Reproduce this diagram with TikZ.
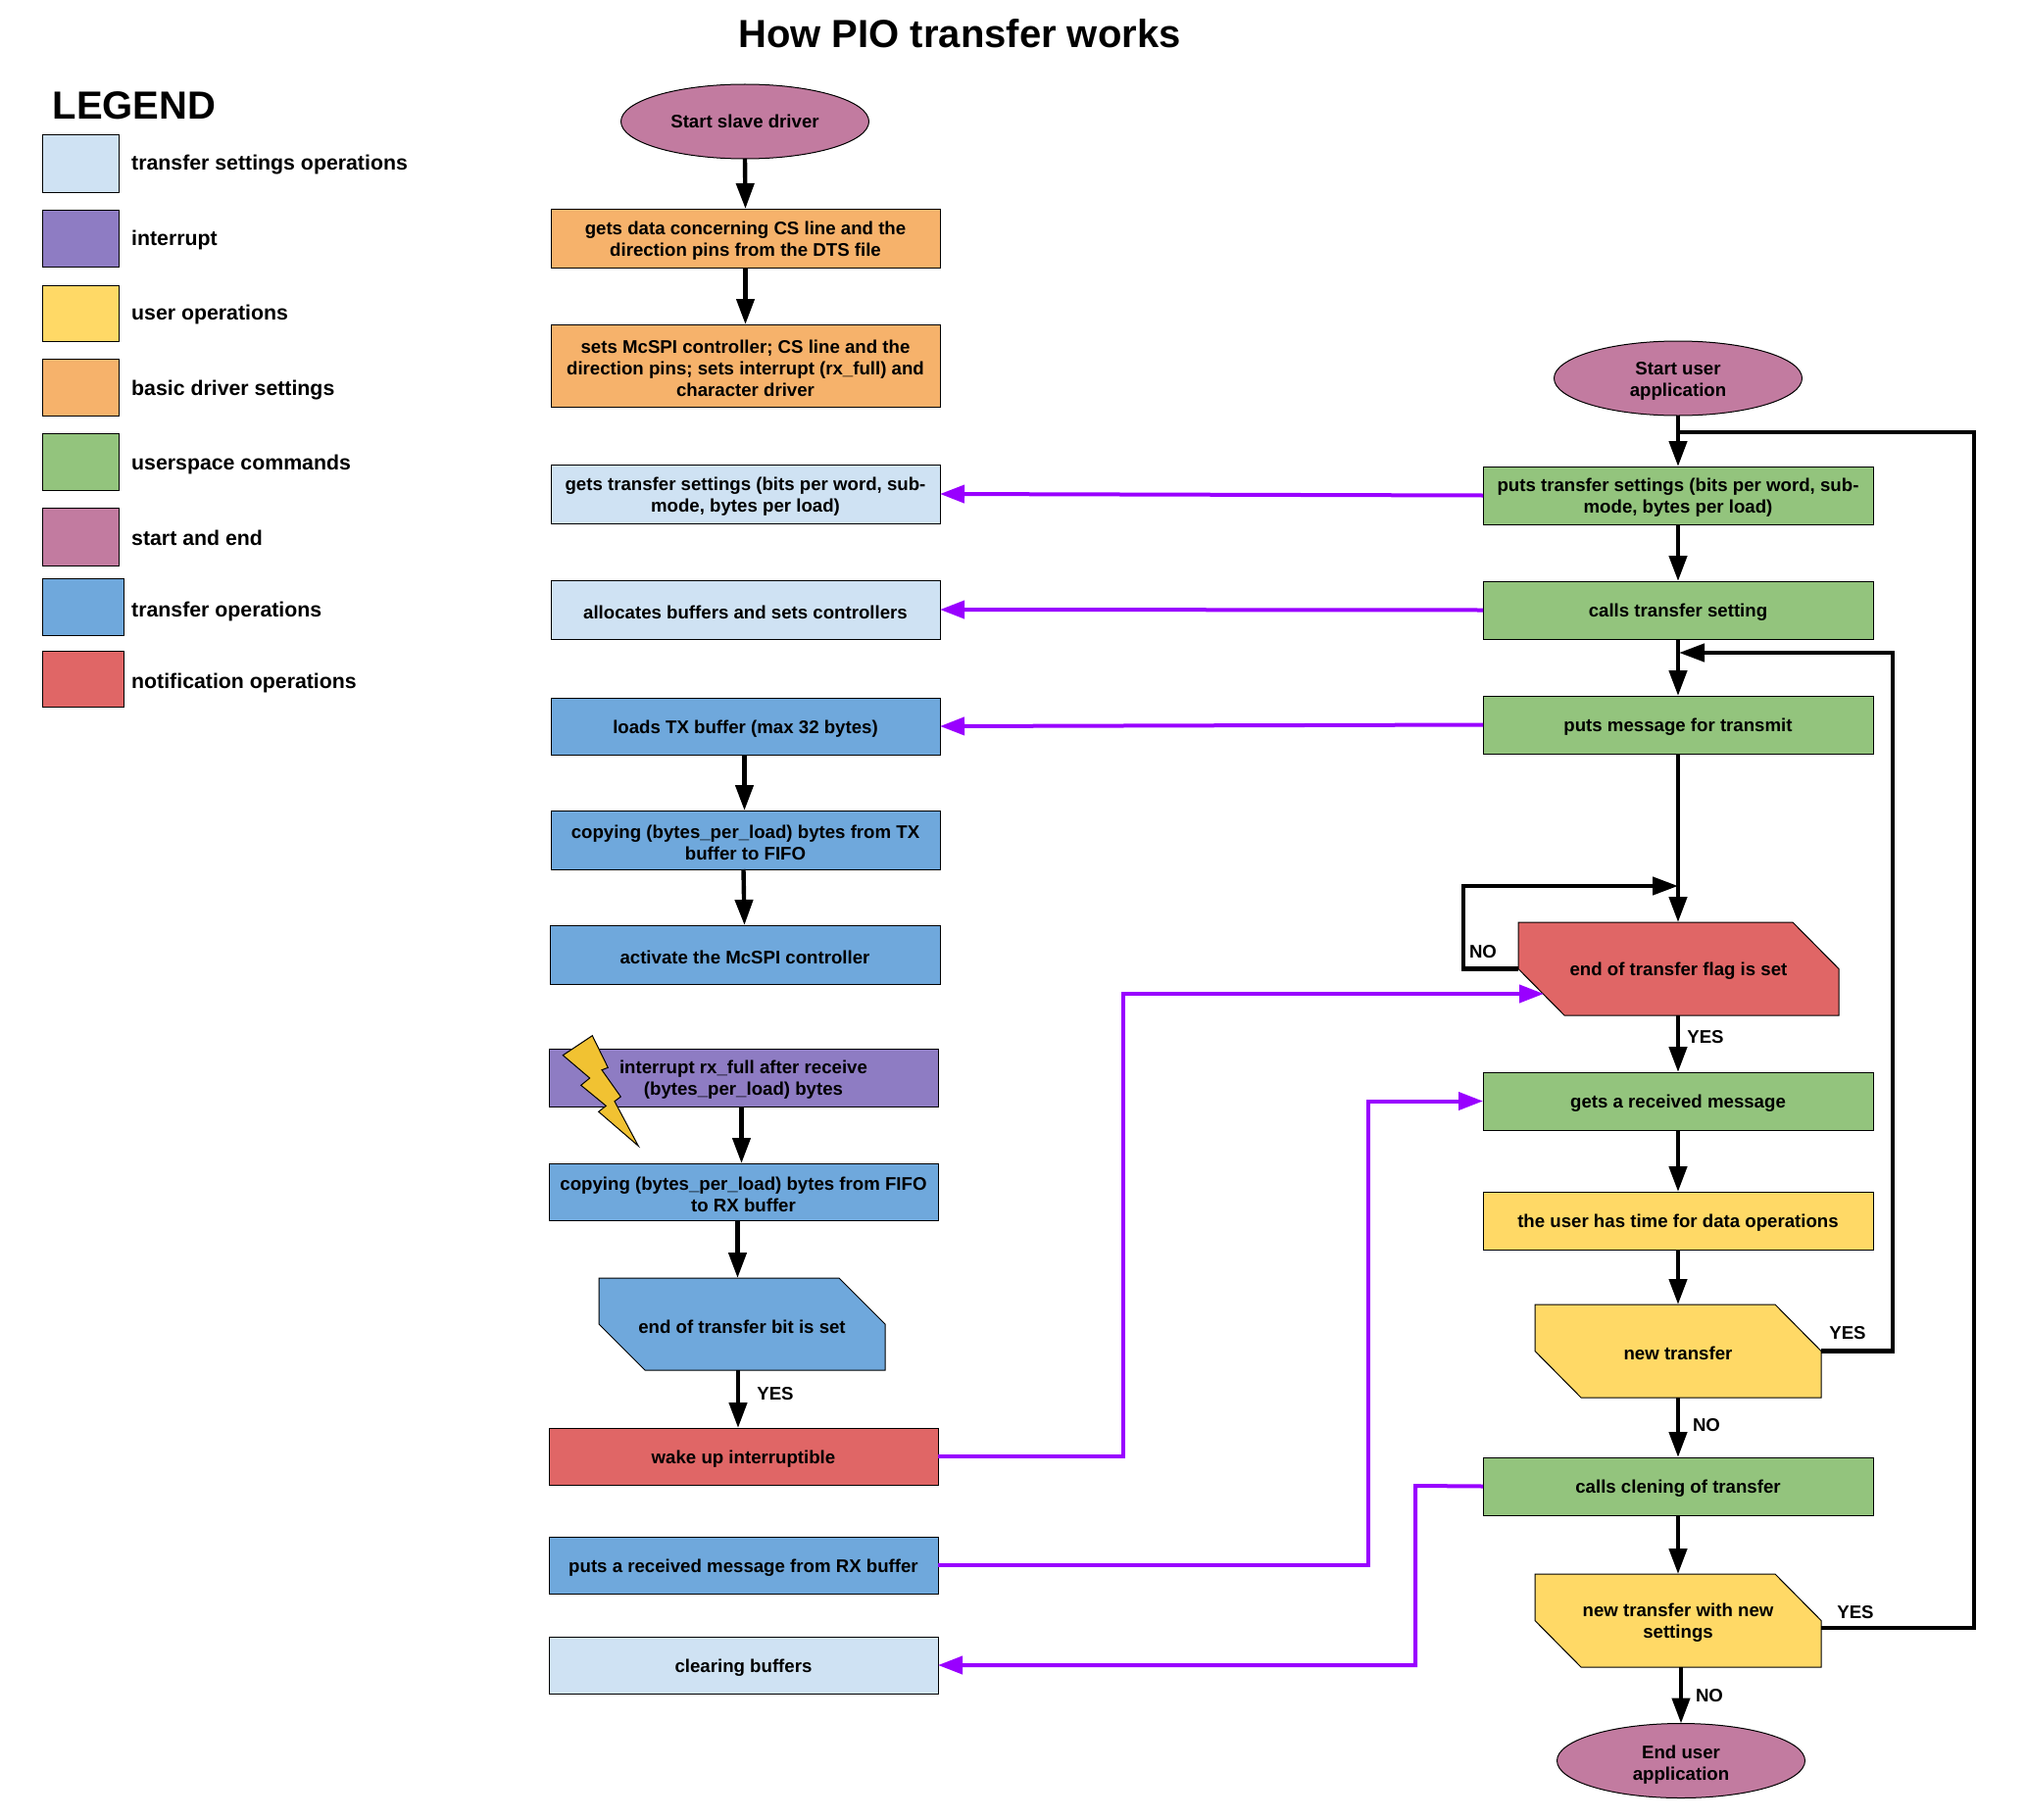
\documentclass[tikz,border=0pt]{standalone}
\usepackage{fontspec}
\setmainfont{Liberation Sans}
\usetikzlibrary{arrows.meta,shapes.geometric,calc}
\definecolor{cstart}{HTML}{C27BA0}
\definecolor{csett}{HTML}{CFE2F3}
\definecolor{cint}{HTML}{8E7CC3}
\definecolor{cuser}{HTML}{FFD966}
\definecolor{cbasic}{HTML}{F6B26B}
\definecolor{ccmd}{HTML}{93C47D}
\definecolor{cxfer}{HTML}{6FA8DC}
\definecolor{cnote}{HTML}{E06666}
\definecolor{cpurple}{HTML}{9900FF}
\definecolor{cbolt}{HTML}{F1C232}
\tikzset{
  x=1pt,y=1pt,
  boxtext/.style={font=\fontsize{18.65}{22}\selectfont\bfseries,align=center,text=black,inner sep=0pt,outer sep=0pt},
  procbox/.style={draw=black,line width=1pt,inner sep=0pt,outer sep=0pt},
  term/.style={draw=black,line width=1pt,ellipse,fill=cstart,inner sep=0pt,outer sep=0pt},
  legbox/.style={draw=black,line width=1pt,inner sep=0pt,outer sep=0pt},
  leglabel/.style={font=\fontsize{21.3}{25}\selectfont\bfseries,anchor=west,inner sep=0pt},
  flow/.style={line width=4.4pt,draw=black,-{Triangle[length=26pt,width=18pt]},line join=miter},
  flowplain/.style={line width=4.4pt,draw=black,line join=miter},
  msg/.style={line width=4pt,draw=cpurple,-{Triangle[length=25pt,width=18pt]},line join=miter},
  edgelabel/.style={font=\fontsize{18.65}{22}\selectfont\bfseries,inner sep=0pt}
}
% name, x1, y1, x2, y2, colour, text
\newcommand{\flowbox}[7]{\node[procbox,fill=#6,minimum width={#4-#2},minimum height={#5-#3}] (#1) at ({(#2+#4)/2},{-(#3+#5)/2-1}) {};
  \node[boxtext] (#1t) at ([yshift=-2.5pt]#1.center) {#7};}
% name, x1, y1, x2, y2, colour, text : box with two cut corners
\newcommand{\cutbox}[7]{\draw[line width=1pt,fill=#6] (#2,{-#3-1}) -- ({#4-47},{-#3-1}) -- (#4,{-(#3+#5)/2-1}) -- (#4,{-#5-1}) -- ({#2+47},{-#5-1}) -- (#2,{-(#3+#5)/2-1}) -- cycle;
  \coordinate (#1) at ({(#2+#4)/2},{-(#3+#5)/2-1});
  \coordinate (#1n) at ({(#2+#4)/2},{-#3-1});
  \coordinate (#1s) at ({(#2+#4)/2},{-#5-1});
  \coordinate (#1w) at (#2,{-(#3+#5)/2-1});
  \coordinate (#1e) at (#4,{-(#3+#5)/2-1});
  \node[boxtext] (#1t) at ([yshift=-2.5pt]#1) {#7};}
% name, x1, y1, x2, y2, colour, label, label y
\newcommand{\legitem}[8]{\node[legbox,fill=#6,minimum width={#4-#2},minimum height={#5-#3}] (#1) at ({(#2+#4)/2},{-(#3+#5)/2}) {};
  \node[leglabel] (#1t) at (134,-#8) {#7};}
\begin{document}
\begin{tikzpicture}
\useasboundingbox (0,0) rectangle (2067,-1857);
\node[font=\fontsize{40}{46}\selectfont\bfseries,inner sep=0pt] (title) at (979,-34) {How PIO transfer works};
\node[font=\fontsize{40}{46}\selectfont\bfseries,inner sep=0pt] (legend) at (137,-108) {LEGEND};
\legitem{la}{43}{138}{121}{196}{csett}{transfer settings operations}{168}
\legitem{lb}{43}{214}{121}{272}{cint}{interrupt}{245}
\legitem{lc}{43}{291}{121}{348}{cuser}{user operations}{321}
\legitem{ld}{43}{366}{121}{424}{cbasic}{basic driver settings}{398}
\legitem{le}{43}{442}{121}{500}{ccmd}{userspace commands}{474}
\legitem{lf}{43}{518}{121}{577}{cstart}{start and end}{549}
\legitem{lg}{43}{590}{126}{648}{cxfer}{transfer operations}{624}
\legitem{lh}{43}{664}{126}{721}{cnote}{notification operations}{697}

% left column
\node[term,minimum width=253pt,minimum height=76pt] (s1) at (760,-124) {};
\node[boxtext] (s1t) at (s1.center) {Start slave driver};
\flowbox{l1}{562}{212}{959}{272}{cbasic}{gets data concerning CS line and the\\direction pins from the DTS file}
\flowbox{l2}{562}{330}{959}{414}{cbasic}{sets McSPI controller; CS line and the\\direction pins; sets interrupt (rx\_full) and\\character driver}
\flowbox{l3}{562}{473}{959}{533}{csett}{gets transfer settings (bits per word, sub-\\mode, bytes per load)}
\flowbox{l4}{562}{591}{959}{651}{csett}{allocates buffers and sets controllers}
\flowbox{l5}{562}{711}{959}{769}{cxfer}{loads TX buffer (max 32 bytes)}
\flowbox{l6}{562}{826}{959}{886}{cxfer}{copying (bytes\_per\_load) bytes from TX\\buffer to FIFO}
\flowbox{l7}{561}{943}{959}{1003}{cxfer}{activate the McSPI controller}
\flowbox{l8}{560}{1069}{957}{1128}{cint}{interrupt rx\_full after receive\\(bytes\_per\_load) bytes}
\flowbox{l9}{560}{1186}{957}{1244}{cxfer}{copying (bytes\_per\_load) bytes from FIFO\\to RX buffer}
\cutbox{l10}{611}{1303}{903}{1397}{cxfer}{end of transfer bit is set}
\flowbox{l11}{560}{1456}{957}{1514}{cnote}{wake up interruptible}
\flowbox{l12}{560}{1567}{957}{1625}{cxfer}{puts a received message from RX buffer}
\flowbox{l13}{560}{1669}{957}{1727}{csett}{clearing buffers}

% lightning bolt
\draw[line width=1pt,fill=cbolt,line join=miter] (604.3,-1056.7) -- (620.3,-1089.3) -- (614,-1091.7) -- (633.3,-1119) -- (627,-1123.7) -- (651.3,-1169.3) -- (610.7,-1134.3) -- (618.3,-1128.3) -- (592.7,-1107.3) -- (601.7,-1100) -- (574.3,-1076.7) -- cycle;

% right column
\node[term,minimum width=253pt,minimum height=76pt] (s2) at (1712,-386) {};
\node[boxtext] (s2t) at ([yshift=-2.5pt]s2.center) {Start user\\application};
\flowbox{r1}{1513}{475}{1911}{534}{ccmd}{puts transfer settings (bits per word, sub-\\mode, bytes per load)}
\flowbox{r2}{1513}{592}{1911}{651}{ccmd}{calls transfer setting}
\flowbox{r3}{1513}{709}{1911}{768}{ccmd}{puts message for transmit}
\cutbox{r4}{1549}{940}{1876}{1035}{cnote}{end of transfer flag is set}
\flowbox{r5}{1513}{1093}{1911}{1152}{ccmd}{gets a received message}
\flowbox{r6}{1513}{1215}{1911}{1274}{cuser}{the user has time for data operations}
\cutbox{r7}{1566}{1330}{1858}{1425}{cuser}{new transfer}
\flowbox{r8}{1513}{1486}{1911}{1545}{ccmd}{calls clening of transfer}
\cutbox{r9}{1566}{1605}{1858}{1700}{cuser}{new transfer with new\\settings}
\node[term,minimum width=253pt,minimum height=76pt] (s3) at (1715,-1796.5) {};
\node[boxtext] (s3t) at ([yshift=-4pt]s3.center) {End user\\application};

% left flow
\draw[flow] (s1.south) -- (l1.north);
\draw[flow] (l1.south) -- (l2.north);
\draw[flow] ([xshift=-1pt]l5.south) -- ([xshift=-1pt]l6.north);
\draw[flow] ([xshift=-2pt]l6.south) -- ([xshift=-1pt]l6.south |- l7.north);
\draw[flow] ([xshift=-2pt]l8.south) -- ([xshift=-2pt]l9.north);
\draw[flow] ([xshift=-6pt]l9.south) -- ([xshift=-6pt]l9.south |- l10n);
\draw[flow] ([xshift=-4pt]l10s) -- ([xshift=-4pt]l10s |- l11.north);

% right flow
\draw[flow] (s2.south) -- (r1.north);
\draw[flow] (r1.south) -- (r2.north);
\draw[flow] (r2.south) -- (r3.north);
\draw[flow] (r3.south) -- (r3.south |- r4n);
\draw[flow] (r5.north |- r4s) -- (r5.north);
\draw[flow] (r5.south) -- (r6.north);
\draw[flow] (r6.south) -- (r6.south |- r7n);
\draw[flow] (r8.north |- r7s) -- (r8.north);
\draw[flow] (r8.south) -- (r8.south |- r9n);
\draw[flow] (s3.north |- r9s) -- (s3.north);

% loops
\draw[flow] (r4w) -- ++(-56,0) |- (r3.south |- 0,-904);
\draw[flow] (r7e) -- (1931,-1378.5) |- ([xshift=1pt]r3.north |- 0,-666);
\draw[flowplain] ([yshift=-7.5pt]r9e) -- (2014,-1661) |- (s2.south |- 0,-441);

% messages
\draw[msg] (r1.west) -- (l3.east);
\draw[msg] (r2.west) -- (l4.east);
\draw[msg] (r3.west) -- (l5.east);
\draw[msg] (l11.east) -- (1146,-1486) |- (1575,-1014);
\draw[msg] (l12.east) -- (1396,-1597) |- (r5.west);
\draw[msg] (r8.west) -- (1444,-1516) |- (l13.east);

% edge labels
\node[edgelabel] (e1) at (791,-1422) {YES};
\node[edgelabel] (e2) at (1513,-971) {NO};
\node[edgelabel] (e3) at (1740,-1058) {YES};
\node[edgelabel] (e4) at (1885,-1360) {YES};
\node[edgelabel] (e5) at (1741,-1454) {NO};
\node[edgelabel] (e6) at (1893,-1645) {YES};
\node[edgelabel] (e7) at (1744,-1730) {NO};
\end{tikzpicture}
\end{document}
